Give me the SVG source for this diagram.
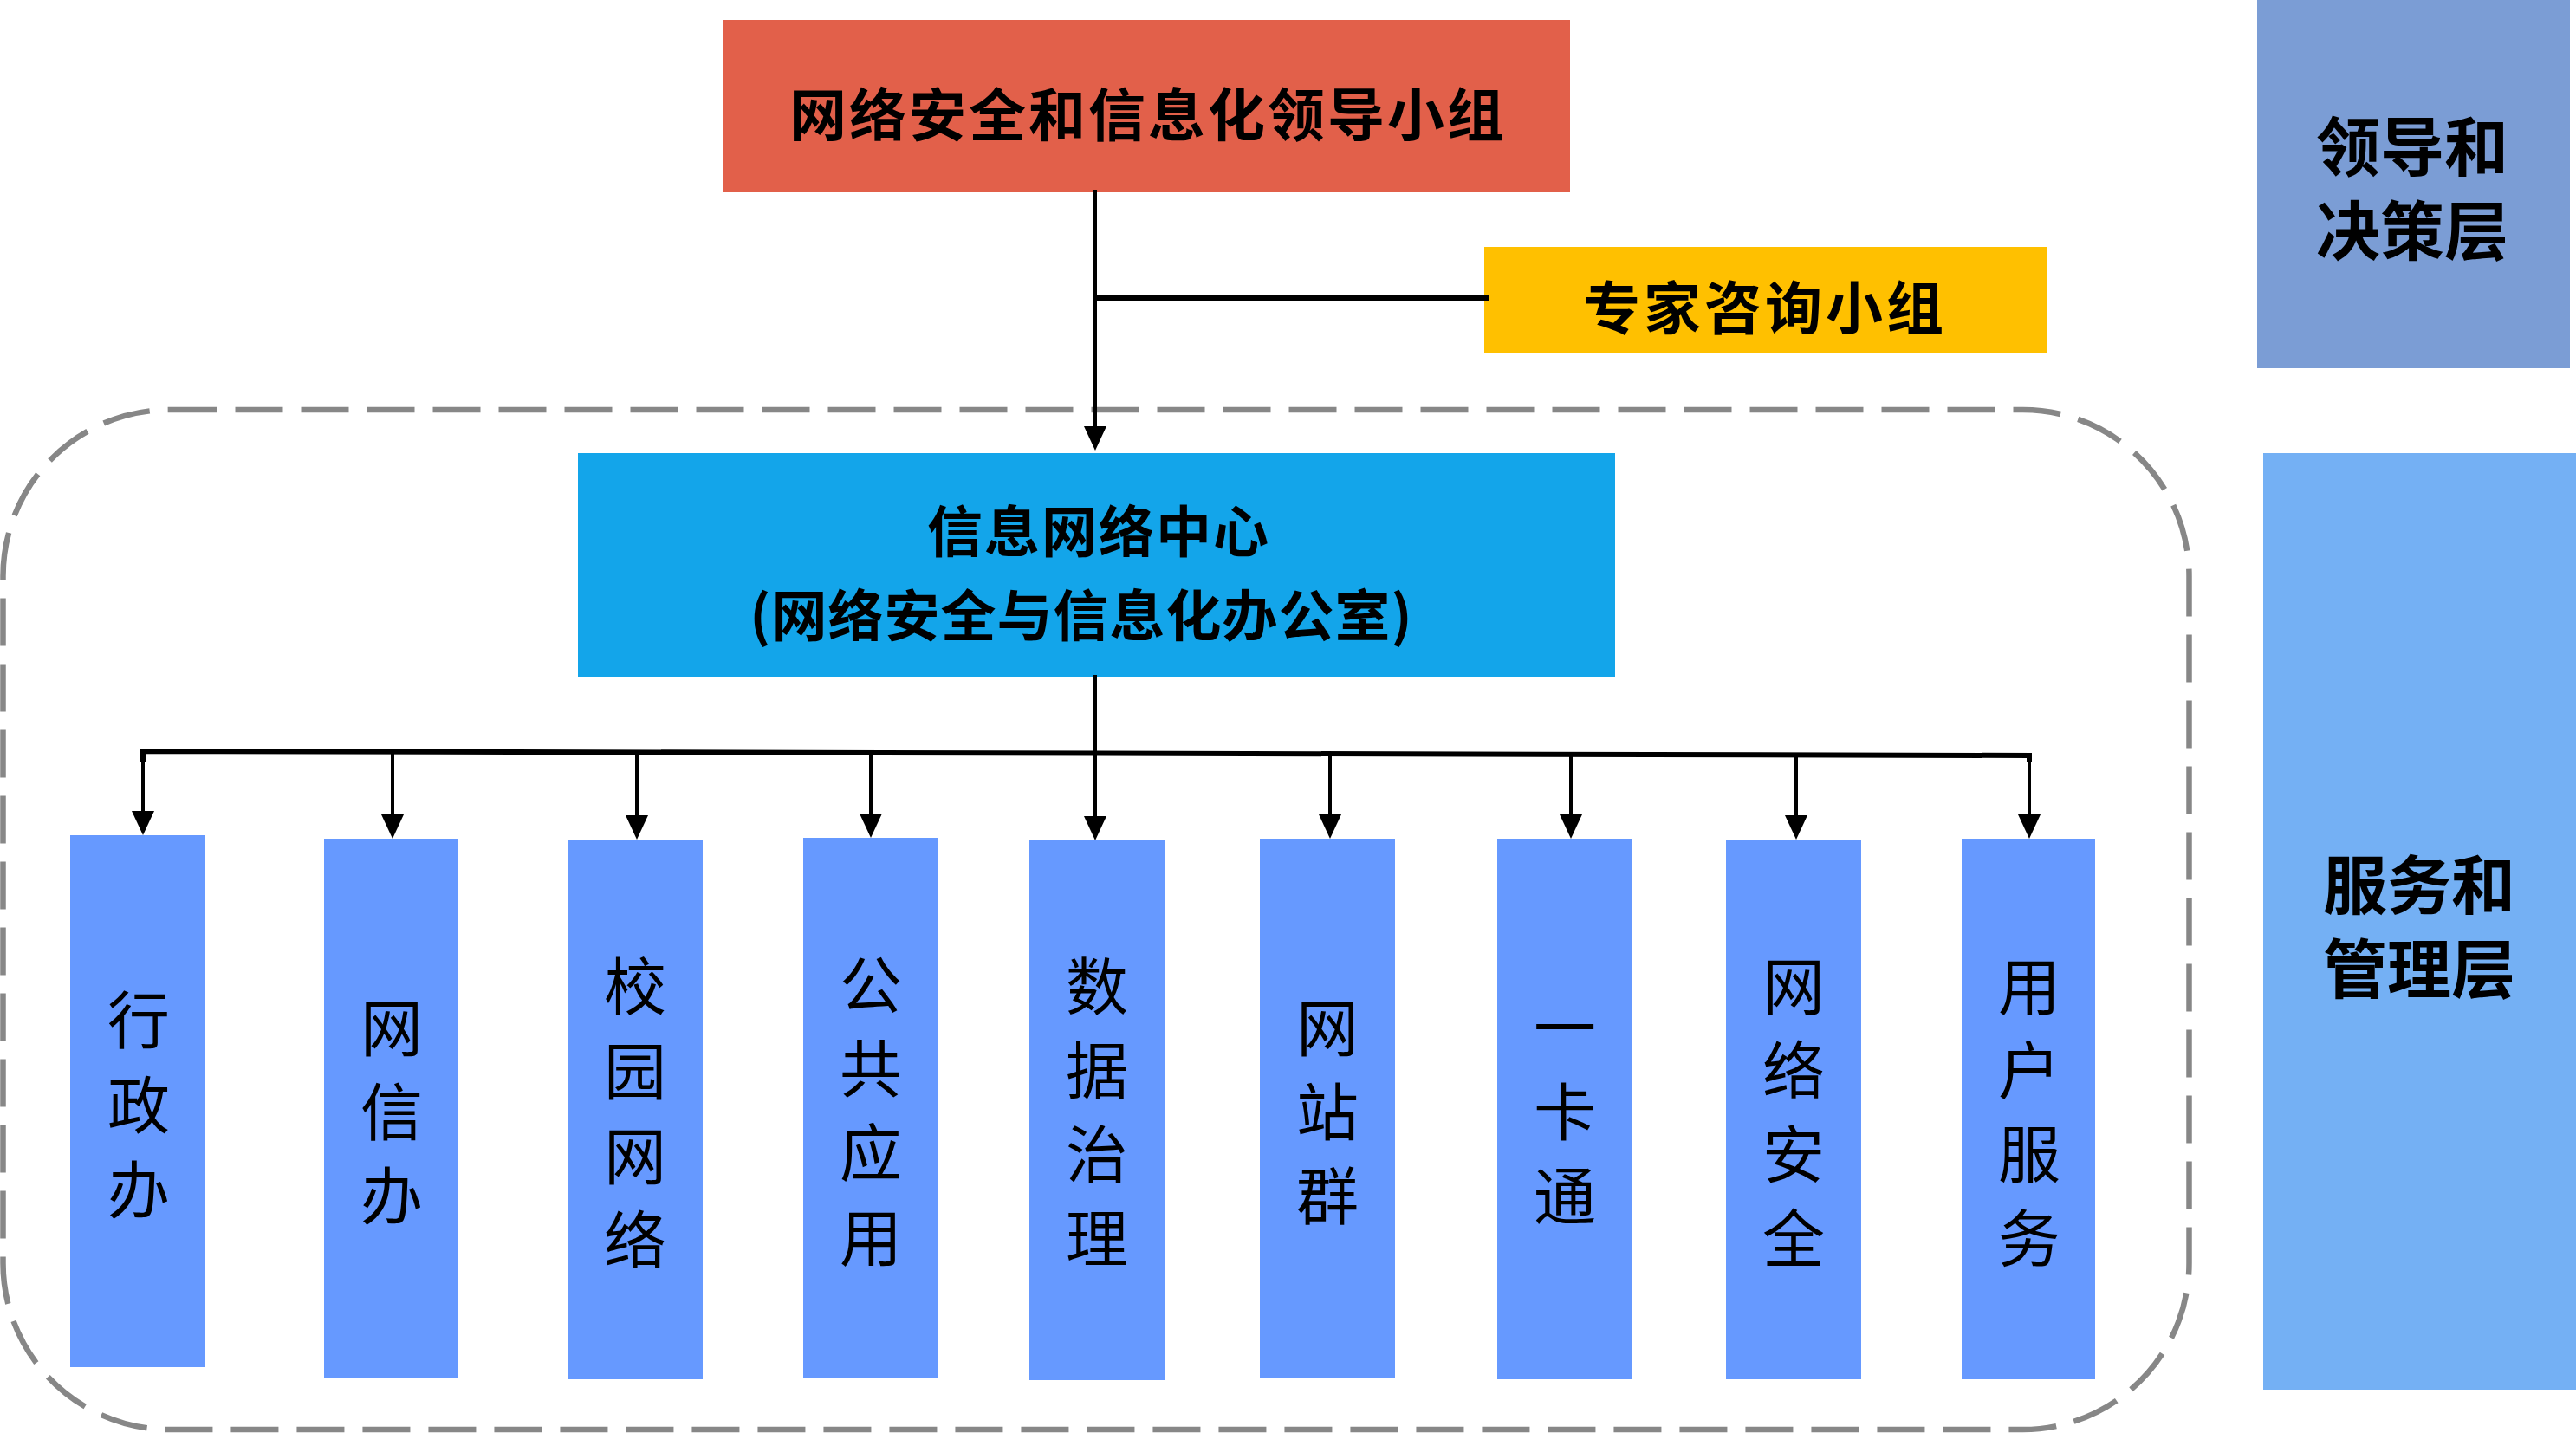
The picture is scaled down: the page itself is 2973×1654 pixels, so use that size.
<svg xmlns="http://www.w3.org/2000/svg" width="2973" height="1654" viewBox="0 0 2973 1654">
<style>
.t{font-family:"Noto Sans CJK SC","Noto Sans",sans-serif;fill:#000}
.b{font-weight:bold}
.c{text-anchor:middle}
.v{font-size:72px;text-anchor:middle}
.col{fill:#6699FF}
.ln{stroke:#000;stroke-width:4;fill:none}
.thick{stroke:#000;stroke-width:6;fill:none}
</style>
<defs>
<marker id="arr" markerUnits="userSpaceOnUse" viewBox="0 0 28 26" refX="6" refY="13" markerWidth="28" markerHeight="26" orient="auto">
<path d="M0,0 L28,13 L0,26 z" fill="#000"/>
</marker>
</defs>
<rect width="2973" height="1654" fill="#fff"/>

<g id="boundary">
<rect x="3.5" y="473" width="2523" height="1177" rx="192" ry="192" fill="none" stroke="#878787" stroke-width="6.5" stroke-dasharray="55 21"/>
</g>

<g id="layer-decision">
<rect x="2605" y="0" width="361" height="425" fill="#7B9DD5"/>
<text class="t b c" font-size="74" x="2784" y="197">领导和</text>
<text class="t b c" font-size="74" x="2784" y="294">决策层</text>
</g>

<g id="layer-service">
<rect x="2612" y="523" width="361" height="1081" fill="#74B0F4"/>
<text class="t b c" font-size="74" x="2792" y="1049">服务和</text>
<text class="t b c" font-size="74" x="2792" y="1146">管理层</text>
</g>

<g id="leader">
<rect x="835" y="23" width="977" height="199" fill="#E2604A"/>
<text class="t b c" font-size="66" letter-spacing="3" x="1325" y="157">网络安全和信息化领导小组</text>
</g>

<g id="expert">
<rect x="1713" y="285" width="649" height="122" fill="#FFC000"/>
<text class="t b c" font-size="66" letter-spacing="4" x="2037" y="380">专家咨询小组</text>
</g>

<g id="center">
<rect x="667" y="523" width="1197" height="258" fill="#13A5EA"/>
<text class="t b c" font-size="64" letter-spacing="2" x="1268" y="637">信息网络中心</text>
<text class="t b c" font-size="64" letter-spacing="1" x="1248" y="734">(网络安全与信息化办公室)</text>
</g>

<g id="connectors">
<line class="ln" x1="1264" y1="219" x2="1264" y2="498" marker-end="url(#arr)"/>
<line class="thick" x1="1264" y1="344" x2="1718" y2="344"/>
<line class="ln" x1="1264" y1="779" x2="1264" y2="869"/>
<polyline class="thick" points="165,880 165,867 2342,872 2342,880"/>
<line class="ln" x1="165" y1="868" x2="165" y2="942" marker-end="url(#arr)"/>
<line class="ln" x1="453" y1="868" x2="453" y2="946" marker-end="url(#arr)"/>
<line class="ln" x1="735" y1="869" x2="735" y2="947" marker-end="url(#arr)"/>
<line class="ln" x1="1005" y1="869" x2="1005" y2="945" marker-end="url(#arr)"/>
<line class="ln" x1="1264" y1="869" x2="1264" y2="948" marker-end="url(#arr)"/>
<line class="ln" x1="1535" y1="870" x2="1535" y2="946" marker-end="url(#arr)"/>
<line class="ln" x1="1813" y1="870" x2="1813" y2="946" marker-end="url(#arr)"/>
<line class="ln" x1="2073" y1="871" x2="2073" y2="947" marker-end="url(#arr)"/>
<line class="ln" x1="2342" y1="871" x2="2342" y2="946" marker-end="url(#arr)"/>
</g>

<g id="n1">
<rect class="col" x="81" y="964" width="156" height="614"/>
<text class="t v"><tspan x="160" y="1204">行</tspan><tspan x="160" y="1302">政</tspan><tspan x="160" y="1400">办</tspan></text>
</g>
<g id="n2">
<rect class="col" x="374" y="968" width="155" height="623"/>
<text class="t v"><tspan x="452" y="1213">网</tspan><tspan x="452" y="1310">信</tspan><tspan x="452" y="1407">办</tspan></text>
</g>
<g id="n3">
<rect class="col" x="655" y="969" width="156" height="623"/>
<text class="t v"><tspan x="733" y="1165">校</tspan><tspan x="733" y="1263">园</tspan><tspan x="733" y="1361">网</tspan><tspan x="733" y="1458">络</tspan></text>
</g>
<g id="n4">
<rect class="col" x="927" y="967" width="155" height="624"/>
<text class="t v"><tspan x="1005" y="1163">公</tspan><tspan x="1005" y="1260">共</tspan><tspan x="1005" y="1357">应</tspan><tspan x="1005" y="1455">用</tspan></text>
</g>
<g id="n5">
<rect class="col" x="1188" y="970" width="156" height="623"/>
<text class="t v"><tspan x="1266" y="1165">数</tspan><tspan x="1266" y="1262">据</tspan><tspan x="1266" y="1359">治</tspan><tspan x="1266" y="1456">理</tspan></text>
</g>
<g id="n6">
<rect class="col" x="1454" y="968" width="156" height="623"/>
<text class="t v"><tspan x="1532" y="1213">网</tspan><tspan x="1532" y="1310">站</tspan><tspan x="1532" y="1407">群</tspan></text>
</g>
<g id="n7">
<rect class="col" x="1728" y="968" width="156" height="624"/>
<text class="t v"><tspan x="1806" y="1213">一</tspan><tspan x="1806" y="1310">卡</tspan><tspan x="1806" y="1407">通</tspan></text>
</g>
<g id="n8">
<rect class="col" x="1992" y="969" width="156" height="623"/>
<text class="t v"><tspan x="2070" y="1165">网</tspan><tspan x="2070" y="1262">络</tspan><tspan x="2070" y="1359">安</tspan><tspan x="2070" y="1456">全</tspan></text>
</g>
<g id="n9">
<rect class="col" x="2264" y="968" width="154" height="624"/>
<text class="t v"><tspan x="2342" y="1165">用</tspan><tspan x="2342" y="1262">户</tspan><tspan x="2342" y="1359">服</tspan><tspan x="2342" y="1456">务</tspan></text>
</g>
</svg>
